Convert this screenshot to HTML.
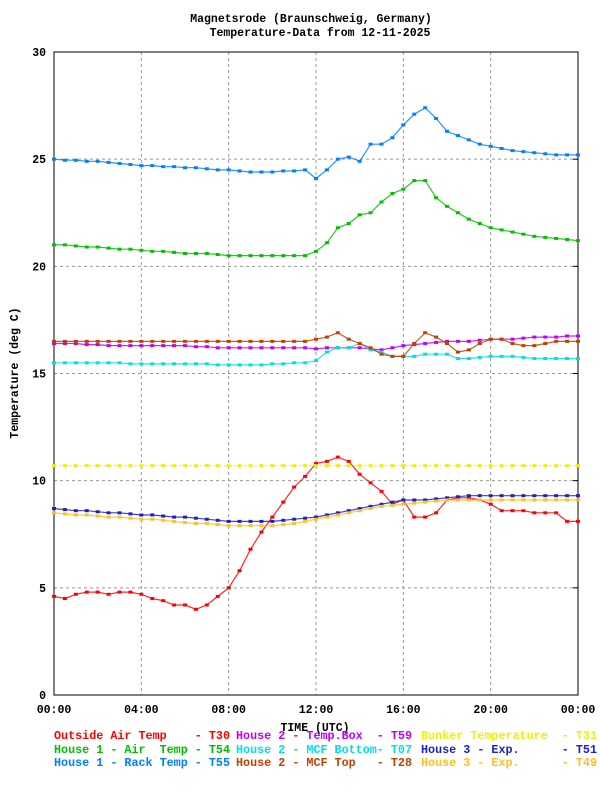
<!DOCTYPE html>
<html><head><meta charset="utf-8">
<style>
html,body{margin:0;padding:0;background:#fff;}
svg text{font-family:"Liberation Mono",monospace;font-weight:bold;}
</style></head>
<body>
<svg id="chart" width="600" height="800" viewBox="0 0 600 800" xmlns="http://www.w3.org/2000/svg">
<rect width="600" height="800" fill="#fff"/>
<text x="311" y="22" font-size="11.5" text-anchor="middle">Magnetsrode (Braunschweig, Germany)</text>
<text x="320" y="36" font-size="11.5" text-anchor="middle">Temperature-Data from 12-11-2025</text>
<g id="grid"></g>
<rect x="54" y="52" width="524" height="643" fill="none" stroke="#000" stroke-width="1"/>
<g id="ticks"></g>
<text transform="translate(18,373) rotate(-90)" font-size="11.5" text-anchor="middle">Temperature (deg C)</text>
<text x="315" y="731" font-size="11.5" text-anchor="middle">TIME (UTC)</text>
<g id="series"></g>
<g id="legend" font-size="11.7"></g>
</svg>
<script>
const hours = [0,0.5,1,1.5,2,2.5,3,3.5,4,4.5,5,5.5,6,6.5,7,7.5,8,8.5,9,9.5,10,10.5,11,11.5,12,12.5,13,13.5,14,14.5,15,15.5,16,16.5,17,17.5,18,18.5,19,19.5,20,20.5,21,21.5,22,22.5,23,23.5,24];
const yTicks = [0,5,10,15,20,25,30];
const xTickHours = [0,4,8,12,16,20,24];
const xTickLabels = ["00:00","04:00","08:00","12:00","16:00","20:00","00:00"];
const outsideAir = [4.6,4.5,4.7,4.8,4.8,4.7,4.8,4.8,4.7,4.5,4.4,4.2,4.2,4.0,4.2,4.6,5.0,5.8,6.8,7.6,8.3,9.0,9.7,10.2,10.8,10.9,11.1,10.9,10.3,9.9,9.5,8.9,9.1,8.3,8.3,8.5,9.1,9.2,9.2,9.1,8.9,8.6,8.6,8.6,8.5,8.5,8.5,8.1,8.1];
const house1Air = [21.0,21.0,20.95,20.9,20.9,20.85,20.8,20.8,20.75,20.7,20.7,20.65,20.6,20.6,20.6,20.55,20.5,20.5,20.5,20.5,20.5,20.5,20.5,20.5,20.7,21.1,21.8,22.0,22.4,22.5,23.0,23.4,23.6,24.0,24.0,23.2,22.8,22.5,22.2,22.0,21.8,21.7,21.6,21.5,21.4,21.35,21.3,21.25,21.2];
const house1Rack = [25.0,24.95,24.95,24.9,24.9,24.85,24.8,24.75,24.7,24.7,24.65,24.65,24.6,24.6,24.55,24.5,24.5,24.45,24.4,24.4,24.4,24.45,24.45,24.5,24.1,24.5,25.0,25.1,24.9,25.7,25.7,26.0,26.6,27.1,27.4,26.9,26.3,26.1,25.9,25.7,25.6,25.5,25.4,25.35,25.3,25.25,25.2,25.2,25.2];
const house2TempBox = [16.4,16.4,16.4,16.35,16.35,16.3,16.3,16.3,16.3,16.3,16.3,16.3,16.3,16.25,16.25,16.2,16.2,16.2,16.2,16.2,16.2,16.2,16.2,16.2,16.15,16.2,16.2,16.2,16.2,16.15,16.1,16.2,16.3,16.35,16.4,16.45,16.5,16.5,16.5,16.55,16.6,16.6,16.6,16.65,16.7,16.7,16.7,16.75,16.75];
const house2McfBottom = [15.5,15.5,15.5,15.5,15.5,15.5,15.5,15.45,15.45,15.45,15.45,15.45,15.45,15.45,15.45,15.4,15.4,15.4,15.4,15.4,15.45,15.45,15.5,15.5,15.6,16.0,16.2,16.2,16.4,16.1,16.0,15.8,15.8,15.8,15.9,15.9,15.9,15.7,15.7,15.75,15.8,15.8,15.8,15.75,15.7,15.7,15.7,15.7,15.7];
const house2McfTop = [16.5,16.5,16.5,16.5,16.5,16.5,16.5,16.5,16.5,16.5,16.5,16.5,16.5,16.5,16.5,16.5,16.5,16.5,16.5,16.5,16.5,16.5,16.5,16.5,16.6,16.7,16.9,16.6,16.4,16.2,15.9,15.8,15.8,16.4,16.9,16.7,16.4,16.0,16.1,16.4,16.6,16.6,16.4,16.3,16.3,16.4,16.5,16.5,16.5];
const bunker = [10.7,10.7,10.7,10.7,10.7,10.7,10.7,10.7,10.7,10.7,10.7,10.7,10.7,10.7,10.7,10.7,10.7,10.7,10.7,10.7,10.7,10.7,10.7,10.7,10.7,10.7,10.7,10.7,10.7,10.7,10.7,10.7,10.7,10.7,10.7,10.7,10.7,10.7,10.7,10.7,10.7,10.7,10.7,10.7,10.7,10.7,10.7,10.7,10.7];
const house3Exp51 = [8.7,8.65,8.6,8.6,8.55,8.5,8.5,8.45,8.4,8.4,8.35,8.3,8.3,8.25,8.2,8.15,8.1,8.1,8.1,8.1,8.1,8.15,8.2,8.25,8.3,8.4,8.5,8.6,8.7,8.8,8.9,9.0,9.1,9.1,9.1,9.15,9.2,9.25,9.3,9.3,9.3,9.3,9.3,9.3,9.3,9.3,9.3,9.3,9.3];
const house3Exp49 = [8.5,8.45,8.4,8.4,8.35,8.3,8.3,8.25,8.2,8.2,8.15,8.1,8.05,8.0,8.0,7.95,7.9,7.9,7.9,7.9,7.9,7.95,8.0,8.1,8.2,8.3,8.4,8.5,8.6,8.7,8.8,8.85,8.9,8.95,9.0,9.05,9.1,9.1,9.1,9.1,9.1,9.1,9.1,9.1,9.1,9.1,9.1,9.1,9.1];

const NS = "http://www.w3.org/2000/svg";
const X0=54, X1=578, Y0=695, Y1=52;
const xs = h => X0 + h*(X1-X0)/24;
const ys = v => Y0 - v*(Y0-Y1)/30;
function mk(tag, attrs, parent){const e=document.createElementNS(NS,tag);for(const k in attrs)e.setAttribute(k,attrs[k]);parent.appendChild(e);return e;}

const grid=document.getElementById('grid'), ticks=document.getElementById('ticks');
yTicks.forEach(v=>{
  if(v>0&&v<30){
    const l=mk('line',{x1:X0,x2:X1,y1:ys(v),y2:ys(v),stroke:'#999','stroke-dasharray':'3,3'},grid);
    
    
  }
  const t=mk('text',{x:46,y:ys(v)+4,'font-size':'11.5','text-anchor':'end'},ticks);
  t.textContent=v;
  
  
  mk('line',{x1:X1-5,x2:X1,y1:ys(v),y2:ys(v),stroke:'#000'},ticks);
});
xTickHours.forEach((h,i)=>{
  if(h>0&&h<24){
    const l=mk('line',{x1:xs(h),x2:xs(h),y1:Y1,y2:Y0,stroke:'#999','stroke-dasharray':'3,3'},grid);
    
    
  }
  const t=mk('text',{x:xs(h),y:713,'font-size':'11.5','text-anchor':'middle'},ticks);
  t.textContent=xTickLabels[i];
  
  
});

const seriesDefs=[
  ['outside-air-temp',outsideAir,'#ff0000'],
  ['house1-air-temp',house1Air,'#00c000'],
  ['house1-rack-temp',house1Rack,'#0080ff'],
  ['house2-temp-box',house2TempBox,'#c000ff'],
  ['house2-mcf-bottom',house2McfBottom,'#00e0e0'],
  ['house2-mcf-top',house2McfTop,'#c04000'],
  ['bunker-temperature',bunker,'#f0f000'],
  ['house3-exp-t51',house3Exp51,'#2020c0'],
  ['house3-exp-t49',house3Exp49,'#ffc020']
];
const sg=document.getElementById('series');
seriesDefs.forEach(([name,vals,col])=>{
  const g=mk('g',{},sg);
  
  
  const pts=vals.map((v,i)=>xs(hours[i]).toFixed(1)+','+ys(v).toFixed(1)).join(' ');
  mk('polyline',{points:pts,fill:'none',stroke:col,'stroke-width':'1.2','stroke-dasharray':name==='bunker-temperature'?'3,2':'none',opacity:'0.85'},g);
  vals.forEach((v,i)=>{
    const r=mk('rect',{x:xs(hours[i])-2,y:ys(v)-1.5,width:4,height:3,fill:col},g);
    
    
  });
});

const legendItems=[
  ['Outside Air Temp    - T30','#ff0000',54,739],
  ['House 2 - Temp.Box  - T59','#c000ff',236,739],
  ['Bunker Temperature  - T31','#f0f000',421,739],
  ['House 1 - Air  Temp - T54','#00c000',54,753],
  ['House 2 - MCF Bottom- T07','#00e0e0',236,753],
  ['House 3 - Exp.      - T51','#2020c0',421,753],
  ['House 1 - Rack Temp - T55','#0080ff',54,766],
  ['House 2 - MCF Top   - T28','#c04000',236,766],
  ['House 3 - Exp.      - T49','#ffc020',421,766]
];
const lg=document.getElementById('legend');
legendItems.forEach(([txt,col,x,y])=>{
  const t=mk('text',{x:x,y:y,fill:col,'xml:space':'preserve',textLength:'176',lengthAdjust:'spacingAndGlyphs'},lg);
  t.style.whiteSpace='pre';
  t.textContent=txt;
  
  
});
</script>
</body></html>
